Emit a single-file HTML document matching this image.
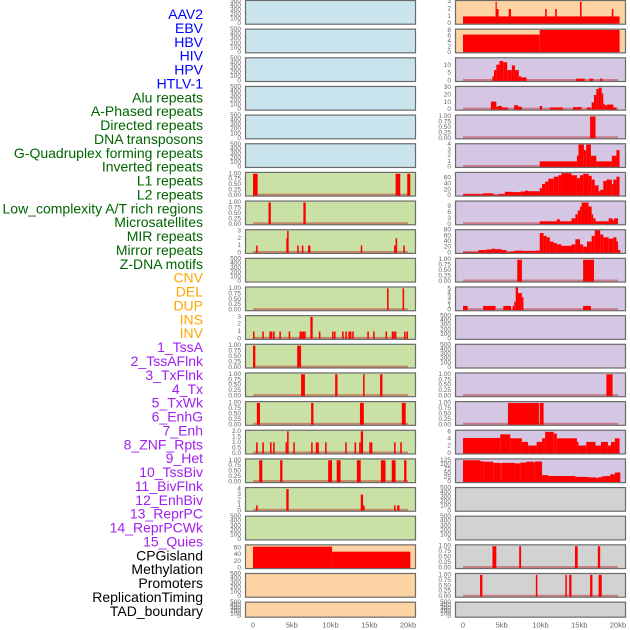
<!DOCTYPE html>
<html><head><meta charset="utf-8">
<style>
html,body{margin:0;padding:0;background:#fff;}
svg{display:block;font-family:"Liberation Sans",sans-serif;}
</style></head>
<body>
<svg id="chart" width="630" height="630" viewBox="0 0 630 630">
<g id="labels"></g>
<g id="panels"></g>
<g id="xaxis"></g>
</svg>
<script>
// ---- track labels ----
const trackLabels = ["AAV2","EBV","HBV","HIV","HPV","HTLV-1","Alu repeats","A-Phased repeats","Directed repeats","DNA transposons","G-Quadruplex forming repeats","Inverted repeats","L1 repeats","L2 repeats","Low_complexity A/T rich regions","Microsatellites","MIR repeats","Mirror repeats","Z-DNA motifs","CNV","DEL","DUP","INS","INV","1_TssA","2_TssAFlnk","3_TxFlnk","4_Tx","5_TxWk","6_EnhG","7_Enh","8_ZNF_Rpts","9_Het","10_TssBiv","11_BivFlnk","12_EnhBiv","13_ReprPC","14_ReprPCWk","15_Quies","CPGisland","Methylation","Promoters","ReplicationTiming","TAD_boundary"];
const labelGroups = ["virus","virus","virus","virus","virus","virus","repeat","repeat","repeat","repeat","repeat","repeat","repeat","repeat","repeat","repeat","repeat","repeat","repeat","sv","sv","sv","sv","sv","chrom","chrom","chrom","chrom","chrom","chrom","chrom","chrom","chrom","chrom","chrom","chrom","chrom","chrom","chrom","other","other","other","other","other"];

// ---- x axis ----
const xTickValues = [0,5,10,15,20];
const xTickLabels = ["0","5kb","10kb","15kb","20kb"];

// ---- panel backgrounds ----
const bgLeft = ["blue","blue","blue","blue","blue","blue","green","green","green","green","green","green","green","green","green","green","green","green","green","orange","orange","orange"];
const bgRight = ["orange","orange","purple","purple","purple","purple","purple","purple","purple","purple","purple","purple","purple","purple","purple","purple","purple","gray","gray","gray","gray","gray"];

// ---- y max per panel ----
const yMaxLeft = [500,500,500,500,500,500,1.04,1.04,3.1,500,1.04,3.1,1.04,1.04,1.04,2.05,1.04,4.2,500,68,500,500];
const yMaxRight = [3.1,8.3,14.5,31,1.04,4.05,78,11.5,80,1.04,5.3,500,500,1.04,1.04,6.3,130,500,500,1.04,1.04,500];

// ---- tick label sets ----
const ticksEmpty = ["0","100","200","300","400","500"];
const ticksProb = ["0.00","0.25","0.50","0.75","1.00"];
const ticks0to3 = ["0","1","2","3"];
const ticks0to4 = ["0","1","2","3","4"];
const ticks0to5 = ["0","1","2","3","4","5"];
const ticksHalf = ["0.0","0.5","1.0","1.5","2.0"];
const ticksEBV = ["0","2","4","6","8"];
const ticksHIV = ["0","5","10"];
const ticksAlu = ["0","10","20","30"];
const ticks60 = ["0","20","40","60"];
const ticks9 = ["0","3","6","9"];
const ticks80 = ["0","20","40","60","80"];
const ticks6 = ["0","2","4","6"];
const ticks125 = ["0","25","50","75","100","125"];

const ticksLeft = [ticksEmpty,ticksEmpty,ticksEmpty,ticksEmpty,ticksEmpty,ticksEmpty,ticksProb,ticksProb,ticks0to3,ticksEmpty,ticksProb,ticks0to3,ticksProb,ticksProb,ticksProb,ticksHalf,ticksProb,ticks0to4,ticksEmpty,ticks60,ticksEmpty,ticksEmpty];
const ticksRight = [ticks0to3,ticksEBV,ticksHIV,ticksAlu,ticksProb,ticks0to4,ticks60,ticks9,ticks80,ticksProb,ticks0to5,ticksEmpty,ticksEmpty,ticksProb,ticksProb,ticks6,ticks125,ticksEmpty,ticksEmpty,ticksProb,ticksProb,ticksEmpty];

// ---- bar data: [startKb, endKb, value] ----
const barsL6 = [[0,0.6,1],[18.4,19.0,1],[19.9,20.3,1]];
const barsL7 = [[2.0,2.3,1],[6.5,6.8,1]];
const barsL8 = [[0.4,0.6,1],[4.3,4.4,2],[4.4,4.6,3],[5.7,5.9,1],[6.3,6.5,1],[7.1,7.4,1],[13.9,14.1,1],[18.2,18.4,1],[18.4,18.6,2],[19.4,19.6,1]];
const barsL10 = [[17.3,17.5,1],[19.3,19.5,1]];
const barsL11 = [[0,0.2,1],[1.2,1.4,1],[2.1,2.3,1],[2.3,2.5,1],[2.6,2.8,1],[3.4,3.6,1],[4.6,4.8,1],[6.0,6.2,1],[6.2,6.4,1],[6.4,6.6,1],[6.6,6.8,1],[7.4,7.7,3],[8.5,8.7,1],[10.2,10.4,1],[10.45,10.65,1],[11.5,11.7,1],[11.9,12.1,1],[12.3,12.5,1],[12.5,12.7,1],[12.8,13.0,1],[14.75,14.95,1],[15.5,15.7,1],[17.1,17.3,1],[17.9,18.1,1],[18.1,18.3,1],[18.3,18.5,1],[19.5,19.7,1],[19.8,20.0,1]];
const barsL12 = [[0,0.3,1],[5.7,6.2,1]];
const barsL13 = [[6.2,6.7,1],[10.6,10.9,1],[14.2,14.4,1],[16.4,16.7,1]];
const barsL14 = [[0.5,0.9,1],[7.5,7.8,1],[13.8,14.3,1],[19.2,19.7,1]];
const barsL15 = [[0.4,0.6,1],[1.2,1.4,1],[2.2,2.4,1],[2.6,2.8,1],[4.2,4.4,1],[4.4,4.6,2],[5.2,5.4,1],[7.5,7.7,1],[8.1,8.3,1],[8.3,8.5,1],[9.3,9.5,1],[11.9,12.1,1],[13.1,13.3,1],[13.7,13.9,1],[13.9,14.2,2],[15.0,15.2,1],[15.2,15.4,1],[18.2,18.4,1],[19.0,19.2,1]];
const barsL16 = [[0.8,1.2,1],[3.5,3.8,1],[9.7,10.2,1],[10.8,11.3,1],[13.4,13.9,1],[16.5,17.1,1],[17.9,18.4,1],[19.5,19.8,1]];
const barsL17 = [[0.4,0.6,1],[4.3,4.6,4],[13.9,14.2,3],[14.2,14.4,1],[18.2,18.4,1],[18.6,18.9,1]];
const barsL19 = [[0,10.2,64],[10.2,20.3,49]];

const barsR0 = [[0,20.2,1],[4.2,4.3,3],[4.3,4.6,2],[5.9,6.2,2],[10.6,10.8,2],[11.9,12.1,2],[15.1,15.3,3],[19.2,19.4,2]];
const barsR1 = [[0,9.9,6.5],[9.9,20.2,8.2]];
const barsR2 = [[3.8,4.0,3],[4.0,4.3,7],[4.3,4.7,10.4],[4.7,5.2,12.8],[5.2,5.7,12],[5.7,6.3,7],[6.3,6.7,10],[6.7,7.2,7],[7.2,7.5,3],[7.5,8.2,2.3],[14.6,15.7,1.5],[16.3,16.8,1.5],[17.7,18.0,1.5]];
const barsR3 = [[3.6,4.3,11],[4.3,4.5,4],[4.5,5.0,5],[5.0,5.8,3],[6.6,7.1,6],[7.1,7.6,4],[9.9,10.2,5],[11.2,12.9,3],[14.2,15.3,3.5],[16.0,16.5,3],[16.6,16.9,10],[16.9,17.2,20],[17.2,17.5,28],[17.5,17.9,30],[17.9,18.1,22],[18.1,18.3,8],[18.3,18.6,6],[18.6,19.4,7],[19.4,19.8,3]];
const barsR4 = [[16.4,17.1,1]];
const barsR5 = [[9.9,14.7,1],[14.7,14.9,2],[14.9,15.6,4],[15.6,15.9,3],[15.9,16.5,4],[16.5,17.2,2],[17.2,19.2,1],[19.2,19.8,2],[19.8,20.2,3]];
const barsR6 = [[0,2.6,5],[2.6,3.9,8],[3.9,4.6,2],[4.6,5.4,5],[5.4,6.5,13],[6.5,7.4,12],[7.4,8.0,14],[8.0,8.4,17],[8.4,9.9,15],[9.9,10.2,25],[10.2,10.6,40],[10.6,11.0,48],[11.0,11.7,58],[11.7,12.3,65],[12.3,12.7,70],[12.7,14.0,77],[14.0,14.7,70],[14.7,15.1,60],[15.1,15.5,70],[15.5,16.2,75],[16.2,16.6,68],[16.6,17.0,55],[17.0,17.5,35],[17.5,17.7,15],[17.7,18.1,20],[18.1,18.5,50],[18.5,19.2,55],[19.2,19.4,40],[19.4,19.8,55],[19.8,20.2,65]];
const barsR7 = [[9.9,12.1,1.5],[12.1,12.5,2.5],[12.5,14.0,1.5],[14.0,14.5,3],[14.5,14.8,5],[14.8,15.1,7],[15.1,15.3,9],[15.3,16.2,11],[16.2,16.6,9],[16.6,16.8,5],[16.8,17.1,3],[17.1,18.8,1.5],[18.8,19.3,3],[19.3,19.5,2],[19.5,20.0,3]];
const barsR8 = [[0,2.0,3],[2.0,3.0,10],[3.0,3.7,12],[3.7,4.1,15],[4.1,5.0,13],[5.0,5.6,10],[5.6,6.2,3],[6.2,6.7,5],[6.7,7.6,8],[7.6,9.3,7],[9.3,9.9,8],[9.9,10.4,70],[10.4,10.8,60],[10.8,11.2,55],[11.2,11.7,40],[11.7,12.1,35],[12.1,12.7,30],[12.7,14.0,25],[14.0,14.5,30],[14.5,15.1,48],[15.1,15.5,30],[15.5,16.0,22],[16.0,16.6,40],[16.6,17.0,60],[17.0,17.7,80],[17.7,18.1,65],[18.1,18.8,55],[18.8,19.4,50],[19.4,19.8,55],[19.8,20.0,40],[20.0,20.3,10]];
const barsR9 = [[7.0,7.6,1],[15.5,16.9,1]];
const barsR10 = [[0,0.6,1],[2.6,4.2,1],[5.2,6.2,1],[6.4,6.6,1],[6.6,6.8,2],[6.8,7.1,5.3],[7.1,7.6,4],[7.6,7.8,3],[15.5,16.5,1]];
const barsR13 = [[18.5,19.3,1]];
const barsR14 = [[5.8,9.8,1],[9.9,10.4,1]];
const barsR15 = [[0,4.8,4.3],[4.8,6.1,5.3],[6.1,7.6,4.2],[7.6,8.4,3.2],[8.4,9.5,2.2],[9.5,10.2,3.2],[10.2,10.6,4.2],[10.6,11.7,6],[11.7,12.1,5.5],[12.1,14.7,4.2],[14.7,14.9,3.2],[14.9,15.9,2.2],[15.9,17.1,3.2],[17.1,17.8,2.2],[17.8,18.7,3.2],[18.7,19.1,2.2],[19.1,19.6,3.2],[19.6,20.2,4.2]];
const barsR16 = [[0,2.2,125],[2.2,2.6,120],[2.6,3.9,117],[3.9,4.8,110],[4.8,5.0,108],[5.0,6.7,110],[6.7,7.4,107],[7.4,8.2,112],[8.2,9.1,117],[9.1,9.3,113],[9.3,10.2,118],[10.2,11.0,40],[11.0,14.5,35],[14.5,16.2,30],[16.2,17.2,27],[17.2,17.5,25],[17.5,17.9,28],[17.9,18.3,33],[18.3,19.0,35],[19.0,19.6,45],[19.6,20.3,55]];
const barsR19 = [[3.8,4.3,1],[7.25,7.5,1],[14.45,14.8,1],[17.4,17.7,1]];
const barsR20 = [[2.2,2.5,1],[9.4,9.6,1],[13.2,13.4,1],[13.7,14.0,1],[16.4,16.7,1],[17.5,17.9,1]];

const barsLeft = [null,null,null,null,null,null,barsL6,barsL7,barsL8,null,barsL10,barsL11,barsL12,barsL13,barsL14,barsL15,barsL16,barsL17,null,barsL19,null,null];
const barsRight = [barsR0,barsR1,barsR2,barsR3,barsR4,barsR5,barsR6,barsR7,barsR8,barsR9,barsR10,null,null,barsR13,barsR14,barsR15,barsR16,null,null,barsR19,barsR20,null];
const baselineLeft = [0,0,0,0,0,0,1,1,1,0,1,1,1,1,1,1,1,1,0,0,0,0];
const baselineRight = [0,0,1,1,1,1,1,1,1,1,1,0,0,1,1,1,1,0,0,1,1,0];

// ---- rendering ----
const NS = "http://www.w3.org/2000/svg";
const BG = {blue:"#c9e4ec",green:"#c9e1a5",orange:"#fed3a3",purple:"#d5c6e3",gray:"#d2d2d2"};
const LABEL_COLOR = {virus:"#0000ff",repeat:"#006400",sv:"#ffa500",chrom:"#a020f0",other:"#000000"};
const COLS = [{x:245,w:171},{x:455,w:171}];
function mk(tag, attrs){const e=document.createElementNS(NS,tag);for(const k in attrs)e.setAttribute(k,attrs[k]);return e;}
function rowTop(r){return r*28.65;}
function rowH(r){return r===21?16:24.7;}
function xScale(col,kb){return COLS[col].x+8+kb*7.75;}
function yScale(r,ymax,v){const b=rowTop(r)+rowH(r)-1;return b-(v/ymax)*(rowH(r)-2);}

const labelsG=document.getElementById('labels');
trackLabels.forEach((t,i)=>{
  const el=mk('text',{x:203,y:14+i*13.88,'text-anchor':'end','dominant-baseline':'central','font-size':'14',fill:LABEL_COLOR[labelGroups[i]]});
  el.textContent=t;
  
  
  labelsG.appendChild(el);
});

const panelsG=document.getElementById('panels');
function drawPanel(col,r,bg,ymax,ticks,bars,baseline){
  const g=mk('g',{});
  
  
  const px=COLS[col].x, pw=COLS[col].w, top=rowTop(r), h=rowH(r);
  const clipId='c'+col+'_'+r;
  const cp=mk('clipPath',{id:clipId});cp.appendChild(mk('rect',{x:px,y:top,width:pw,height:h}));g.appendChild(cp);
  const rect=mk('rect',{x:px+0.5,y:top+0.5,width:pw-1,height:h-1,fill:BG[bg],stroke:'none'});
  
  
  g.appendChild(rect);
  const inner=mk('g',{'clip-path':'url(#'+clipId+')'});
  if(baseline){
    const bl=mk('rect',{x:xScale(col,0),y:top+h-3,width:xScale(col,20)-xScale(col,0),height:2,fill:'rgba(190,30,30,0.45)'});
    
    
    inner.appendChild(bl);
  }
  if(bars){bars.forEach(b=>{
    const x1=xScale(col,b[0]),x2=xScale(col,b[1]),y=yScale(r,ymax,b[2]);
    const br=mk('rect',{x:x1,y:y,width:Math.max(1.2,x2-x1),height:(top+h-1)-y,fill:'#ff0000'});
    
    
    inner.appendChild(br);
  });}
  g.appendChild(inner);
  const frame=mk('rect',{x:px+0.5,y:top+0.5,width:pw-1,height:h-1,fill:'none',stroke:'#6b6b6b','stroke-width':1.2});
  
  
  g.appendChild(frame);
  const n=ticks.length;
  ticks.forEach((t,i)=>{
    const v=parseFloat(t);
    const tv=(v/parseFloat(ticks[n-1]))*(ymax===500?500:parseFloat(ticks[n-1]));
    const y=yScale(r,ymax,tv);
    const te=mk('text',{x:px-4,y:y,'text-anchor':'end','dominant-baseline':'central','font-size':'6.5',fill:'#666'});
    te.textContent=t;
    
    
    g.appendChild(te);
  });
  panelsG.appendChild(g);
}
for(let r=0;r<22;r++){
  drawPanel(0,r,bgLeft[r],yMaxLeft[r],ticksLeft[r],barsLeft[r],baselineLeft[r]);
  drawPanel(1,r,bgRight[r],yMaxRight[r],ticksRight[r],barsRight[r],baselineRight[r]);
}

const xg=document.getElementById('xaxis');
[0,1].forEach(col=>{
  xTickValues.forEach((v,i)=>{
    const te=mk('text',{x:xScale(col,v),y:625,'text-anchor':'middle','dominant-baseline':'central','font-size':'7.5',fill:'#666'});
    te.textContent=xTickLabels[i];
    
    
    xg.appendChild(te);
  });
});
</script>
</body></html>
